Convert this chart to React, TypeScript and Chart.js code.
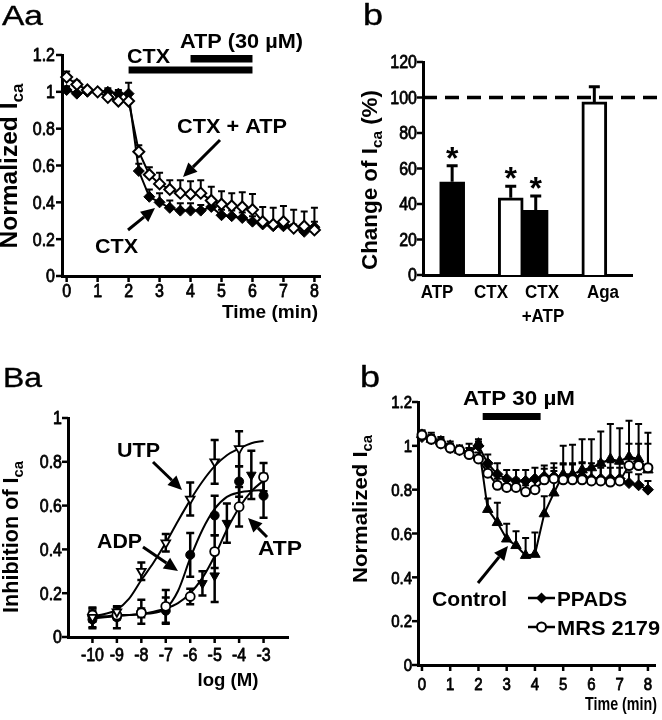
import React, { useEffect, useRef } from 'react';
import { Chart, registerables } from 'chart.js';
Chart.register(...registerables);

// ================= DATA =================
// Panel Aa : normalized I_Ca vs time
const timeAa = [0, 0.33, 0.67, 1, 1.33, 1.67, 2, 2.33, 2.67, 3, 3.33, 3.67, 4, 4.33, 4.67, 5, 5.33, 5.67, 6, 6.33, 6.67, 7, 7.33, 7.67, 8];
const ctxAa = [1.01, 0.99, 1.0, 1.0, 1.0, 0.99, 0.99, 0.57, 0.43, 0.4, 0.37, 0.355, 0.355, 0.355, 0.375, 0.33, 0.325, 0.315, 0.295, 0.28, 0.27, 0.27, 0.26, 0.24, 0.265];
const ctxAaErr = [0.02, 0.01, 0.01, 0.01, 0.02, 0.02, 0.06, 0.04, 0.04, 0.05, 0.04, 0.04, 0.04, 0.03, 0.03, 0.03, 0.03, 0.03, 0.03, 0.02, 0.02, 0.02, 0.02, 0.02, 0.03];
const ctxAtpAa = [1.08, 1.04, 1.01, 1.0, 0.97, 0.95, 0.95, 0.675, 0.55, 0.5, 0.47, 0.45, 0.445, 0.45, 0.41, 0.39, 0.38, 0.375, 0.36, 0.295, 0.28, 0.295, 0.26, 0.27, 0.25];
const ctxAtpAaErr = [0.03, 0.02, 0.01, 0.01, 0.02, 0.03, 0.03, 0.035, 0.04, 0.06, 0.05, 0.07, 0.07, 0.07, 0.075, 0.07, 0.07, 0.08, 0.085, 0.08, 0.09, 0.085, 0.1, 0.08, 0.12];
const aaYTicks = [0, 0.2, 0.4, 0.6, 0.8, 1, 1.2];
const aaYLabels = ['0', '0.2', '0.4', '0.6', '0.8', '1', '1.2'];
const aaXTicks = [0, 1, 2, 3, 4, 5, 6, 7, 8];
const aaXLabels = ['0', '1', '2', '3', '4', '5', '6', '7', '8'];
const ctxPeriod = [2, 6];
const atpPeriodAa = [4, 6];

// Panel Ab : change of I_Ca (%)
const barLabels = ['ATP', 'CTX', 'CTX\n+ATP', 'Aga'];
const barGroup = ['ATP', 'CTX', 'CTX', 'Aga'];
const barValues = [52.5, 43.5, 36.5, 97.5];
const barErrors = [9, 6.5, 8, 8.5];
const barSignificant = [true, true, true, false];
const abYTicks = [0, 20, 40, 60, 80, 100, 120];
const abYLabels = ['0', '20', '40', '60', '80', '100', '120'];
const controlLevel = 100;

// Panel Ba : concentration-response
const logConc = [-10, -9, -8, -7, -6, -5, -4, -3];
const utpConc = [-10, -9, -8, -7, -6, -5, -4];
const utpBa = [0.09, 0.115, 0.3, 0.43, 0.63, 0.8, 0.86];
const utpBaErr = [0.045, 0.02, 0.04, 0.04, 0.075, 0.1, 0.08];
const adpBa = [0.08, 0.09, 0.115, 0.12, 0.375, 0.555, 0.71, 0.645];
const adpBaErr = [0.04, 0.05, 0.055, 0.06, 0.1, 0.09, 0.07, 0.1];
const atpBa = [0.1, 0.1, 0.11, 0.14, 0.185, 0.39, 0.595, 0.73];
const atpBaErr = [0.03, 0.02, 0.02, 0.075, 0.035, 0.075, 0.09, 0.065];
const extraConc = [-5.5, -5, -4.5, -3.5];
const extraBa = [0.245, 0.28, 0.52, 0.74];
const extraBaErr = [0.055, 0.12, 0.09, 0.11];
const fitConc = [-10, -9.5, -9, -8.5, -8, -7.5, -7, -6.5, -6, -5.5, -5, -4.5, -4, -3.5, -3];
const utpFit = [0.095, 0.105, 0.125, 0.175, 0.26, 0.34, 0.43, 0.53, 0.625, 0.71, 0.78, 0.83, 0.86, 0.885, 0.895];
const adpFit = [0.085, 0.09, 0.095, 0.1, 0.105, 0.11, 0.13, 0.21, 0.36, 0.49, 0.585, 0.64, 0.66, 0.668, 0.67];
const atpFit = [0.095, 0.095, 0.1, 0.1, 0.105, 0.115, 0.13, 0.155, 0.2, 0.27, 0.37, 0.49, 0.59, 0.665, 0.715];
const baYTicks = [0, 0.2, 0.4, 0.6, 0.8, 1];
const baYLabels = ['0', '0.2', '0.4', '0.6', '0.8', '1'];
const baXTicks = [-10, -9, -8, -7, -6, -5, -4, -3];
const baXLabels = ['-10', '-9', '-8', '-7', '-6', '-5', '-4', '-3'];

// Panel Bb : antagonists
const timeBb = [0, 0.33, 0.67, 1, 1.33, 1.67, 2, 2.33, 2.67, 3, 3.33, 3.67, 4, 4.33, 4.67, 5, 5.33, 5.67, 6, 6.33, 6.67, 7, 7.33, 7.67, 8];
const controlBb = [1.05, 1.03, 1.02, 1.0, 0.98, 0.97, 1.01, 0.71, 0.65, 0.575, 0.545, 0.5, 0.505, 0.69, 0.785, 0.87, 0.87, 0.89, 0.9, 0.92, 0.94, 0.93, 0.95, 0.94, 0.89];
const controlBbErr = [0.02, 0.03, 0.02, 0.02, 0.02, 0.04, 0.02, 0.05, 0.09, 0.07, 0.065, 0.08, 0.1, 0.08, 0.1, 0.13, 0.135, 0.14, 0.13, 0.145, 0.16, 0.15, 0.165, 0.16, 0.17];
const ppadsBb = [1.04, 1.03, 1.01, 0.99, 0.98, 0.97, 1.0, 0.92, 0.87, 0.85, 0.84, 0.84, 0.85, 0.86, 0.86, 0.86, 0.86, 0.86, 0.85, 0.85, 0.85, 0.85, 0.83, 0.82, 0.8];
const ppadsBbErr = [0.02, 0.02, 0.02, 0.02, 0.02, 0.02, 0.02, 0.04, 0.05, 0.04, 0.05, 0.05, 0.05, 0.05, 0.06, 0.06, 0.06, 0.06, 0.05, 0.05, 0.05, 0.05, 0.05, 0.05, 0.04];
const mrsBb = [1.05, 1.03, 1.01, 0.99, 0.98, 0.96, 0.94, 0.875, 0.82, 0.81, 0.81, 0.79, 0.8, 0.845, 0.85, 0.845, 0.845, 0.845, 0.84, 0.84, 0.835, 0.84, 0.91, 0.91, 0.9];
const mrsBbErr = [0.02, 0.02, 0.02, 0.02, 0.02, 0.03, 0.03, 0.03, 0.03, 0.03, 0.04, 0.03, 0.04, 0.05, 0.05, 0.07, 0.07, 0.08, 0.08, 0.09, 0.09, 0.08, 0.1, 0.1, 0.11];
const bbYTicks = [0, 0.2, 0.4, 0.6, 0.8, 1, 1.2];
const bbYLabels = ['0', '0.2', '0.4', '0.6', '0.8', '1', '1.2'];
const bbXTicks = [0, 1, 2, 3, 4, 5, 6, 7, 8];
const bbXLabels = ['0', '1', '2', '3', '4', '5', '6', '7', '8'];
const atpPeriodBb = [2.15, 4.2];

// ================= HELPERS =================
const FONT = '"Liberation Sans", Arial, Helvetica, sans-serif';

function text(ctx: any, s: string, x: number, y: number, o: any) {
  ctx.save();
  ctx.font = `${o.bold ? 'bold ' : ''}${o.size}px ${FONT}`;
  ctx.textAlign = 'left';
  ctx.textBaseline = 'alphabetic';
  ctx.fillStyle = '#000';
  const m = ctx.measureText(s).width;
  const sx = o.w ? o.w / m : (o.sx || 1);
  const w = m * sx;
  const x0 = o.align === 'center' ? x - w / 2 : o.align === 'right' ? x - w : x;
  ctx.translate(x0, y);
  ctx.scale(sx, o.sy || 1);
  ctx.fillText(s, 0, 0);
  if (o.heavy) {
    ctx.strokeStyle = '#000';
    ctx.lineWidth = o.heavy;
    ctx.lineJoin = 'round';
    ctx.strokeText(s, 0, 0);
  }
  ctx.restore();
}

function yTitle(ctx: any, baseX: number, cy: number, main: string, sub: string, tail: string, size: number, len: number) {
  ctx.save();
  ctx.translate(baseX, cy);
  ctx.rotate(-Math.PI / 2);
  const f = `bold ${size}px ${FONT}`;
  const fs = `bold ${Math.round(size * 0.68)}px ${FONT}`;
  ctx.font = f;
  const w1 = ctx.measureText(main).width;
  const w3 = tail ? ctx.measureText(tail).width : 0;
  ctx.font = fs;
  const w2 = ctx.measureText(sub).width;
  const total = w1 + w2 + w3;
  ctx.scale(len / total, 1);
  const x0 = -total / 2;
  ctx.fillStyle = '#000';
  ctx.textAlign = 'left';
  ctx.textBaseline = 'alphabetic';
  ctx.font = f;
  ctx.fillText(main, x0, 0);
  ctx.font = fs;
  ctx.fillText(sub, x0 + w1, size * 0.24);
  if (tail) {
    ctx.font = f;
    ctx.fillText(tail, x0 + w1 + w2, 0);
  }
  ctx.restore();
}

function seg(ctx: any, x1: number, y1: number, x2: number, y2: number, lw: number) {
  ctx.save();
  ctx.strokeStyle = '#000';
  ctx.lineWidth = lw;
  ctx.beginPath();
  ctx.moveTo(x1, y1);
  ctx.lineTo(x2, y2);
  ctx.stroke();
  ctx.restore();
}

function arrow(ctx: any, x1: number, y1: number, x2: number, y2: number) {
  const lw = 3, hl = 14, hw = 6.5;
  const a = Math.atan2(y2 - y1, x2 - x1);
  const bx = x2 - hl * Math.cos(a), by = y2 - hl * Math.sin(a);
  seg(ctx, x1, y1, bx, by, lw);
  ctx.save();
  ctx.fillStyle = '#000';
  ctx.beginPath();
  ctx.moveTo(x2, y2);
  ctx.lineTo(bx + hw * Math.sin(a), by - hw * Math.cos(a));
  ctx.lineTo(bx - hw * Math.sin(a), by + hw * Math.cos(a));
  ctx.closePath();
  ctx.fill();
  ctx.restore();
}

function drawErrs(chart: any, phase: string) {
  const ctx = chart.ctx;
  const ys = chart.scales.y;
  chart.data.datasets.forEach((ds: any, di: number) => {
    if (!ds.errs || (ds.errPhase || 'before') !== phase) return;
    const meta = chart.getDatasetMeta(di);
    ds.data.forEach((p: any, i: number) => {
      const e = ds.errs[i];
      if (e == null || p.y == null) return;
      const el = meta.data[i];
      if (!el) return;
      const x = el.x;
      const yTop = ys.getPixelForValue(p.y + e);
      const yBot = ds.errBoth ? ys.getPixelForValue(p.y - e) : ys.getPixelForValue(p.y);
      const c = ds.errCap || 3;
      ctx.save();
      ctx.strokeStyle = '#000';
      ctx.lineWidth = ds.errLw || 2;
      ctx.beginPath();
      ctx.moveTo(x, yBot);
      ctx.lineTo(x, yTop);
      ctx.moveTo(x - c, yTop);
      ctx.lineTo(x + c, yTop);
      if (ds.errBoth) {
        ctx.moveTo(x - c, yBot);
        ctx.lineTo(x + c, yBot);
      }
      ctx.stroke();
      ctx.restore();
    });
  });
}

const errPlugin = {
  id: 'errbars',
  beforeDatasetsDraw(chart: any) { drawErrs(chart, 'before'); },
  afterDatasetsDraw(chart: any) { drawErrs(chart, 'after'); },
};

function deco(ox: number, oy: number, draw: (ctx: any, h: any, chart: any) => void) {
  return {
    id: 'deco',
    afterDraw(chart: any) {
      const ctx = chart.ctx;
      const a = chart.chartArea;
      const xs = chart.scales.x, ys = chart.scales.y;
      ctx.save();
      ctx.translate(-ox, -oy);
      draw(ctx, {
        X: (v: number) => xs.getPixelForValue(v) + ox,
        Y: (v: number) => ys.getPixelForValue(v) + oy,
        L: a.left + ox, R: a.right + ox, T: a.top + oy, B: a.bottom + oy,
        ox, oy,
      }, chart);
      ctx.restore();
    },
  };
}

function axis(min: number, max: number, horizontal: boolean, extra: any = {}) {
  return {
    type: 'linear',
    min, max,
    offset: false,
    ticks: { display: false },
    grid: { display: false, drawTicks: false },
    border: { display: true, color: '#000', width: 3 },
    afterFit: (s: any) => { if (horizontal) s.height = 0; else s.width = 0; },
    ...extra,
  };
}

function baseOptions(padding: any, xAx: any, yAx: any) {
  return {
    animation: false,
    responsive: false,
    maintainAspectRatio: false,
    layout: { padding },
    plugins: { legend: { display: false }, tooltip: { enabled: false } },
    scales: { x: xAx, y: yAx },
  };
}

function yTicksDraw(ctx: any, h: any, vals: number[], labels: string[], right: number, size: number, sy: number) {
  vals.forEach((v, i) => {
    const y = h.Y(v);
    seg(ctx, h.L - 6, y, h.L, y, 2.5);
    text(ctx, labels[i], right, y + 0.358 * size * sy, { size, align: 'right', sy, heavy: 0.7 });
  });
}
function xTicksDraw(ctx: any, h: any, vals: number[], labels: string[], base: number, size: number, sy: number) {
  vals.forEach((v, i) => {
    const x = h.X(v);
    seg(ctx, x, h.B, x, h.B + 6, 2.5);
    text(ctx, labels[i], x, base, { size, align: 'center', sy, heavy: 0.7 });
  });
}

const pts = (xs: number[], ys: number[]) => xs.map((x, i) => ({ x, y: ys[i] }));

// ================= CONFIGS =================
function cfgAa() {
  const ox = 0, oy = 0;
  return {
    type: 'scatter',
    data: {
      datasets: [
        {
          label: 'CTX + ATP', data: pts(timeAa, ctxAtpAa), errs: ctxAtpAaErr, errCap: 3.5, errLw: 2,
          showLine: true, borderColor: '#000', borderWidth: 2, pointStyle: 'rectRot', pointRadius: 5.5,
          pointBackgroundColor: '#fff', pointBorderColor: '#000', pointBorderWidth: 2, clip: false,
        },
        {
          label: 'CTX', data: pts(timeAa, ctxAa), errs: ctxAaErr, errCap: 3.5, errLw: 2,
          showLine: true, borderColor: '#000', borderWidth: 2, pointStyle: 'rectRot', pointRadius: 5.5,
          pointBackgroundColor: '#000', pointBorderColor: '#000', pointBorderWidth: 1, clip: false,
        },
      ],
    },
    options: baseOptions({ left: 62, right: 11, top: 55, bottom: 64 }, axis(-0.15, 8.18, true), axis(0, 1.2, false)),
    plugins: [errPlugin, deco(ox, oy, (ctx, h) => {
      yTicksDraw(ctx, h, aaYTicks, aaYLabels, 55, 16, 1.13);
      xTicksDraw(ctx, h, aaXTicks, aaXLabels, 297, 16, 1.13);
      text(ctx, 'Time (min)', 318, 318, { size: 19, bold: true, align: 'right', w: 96 });
      yTitle(ctx, 17, 166, 'Normalized I', 'ca', '', 23, 165);
      text(ctx, 'Aa', 2, 25, { size: 28, w: 41, heavy: 0.4 });
      ctx.fillStyle = '#000';
      ctx.fillRect(h.X(ctxPeriod[0]), 66.5, h.X(ctxPeriod[1]) - h.X(ctxPeriod[0]), 7);
      ctx.fillRect(h.X(atpPeriodAa[0]), 55, h.X(atpPeriodAa[1]) - h.X(atpPeriodAa[0]), 7.5);
      text(ctx, 'CTX', 127, 63, { size: 21, bold: true, w: 43 });
      text(ctx, 'ATP (30 µM)', 180, 48, { size: 21, bold: true, w: 123 });
      text(ctx, 'CTX + ATP', 177, 133, { size: 21, bold: true, w: 110 });
      arrow(ctx, 220, 140, 183, 177);
      text(ctx, 'CTX', 95, 253, { size: 21, bold: true, w: 43 });
      arrow(ctx, 128, 230, 155, 208);
    })],
  };
}

function cfgAb() {
  const ox = 331, oy = 0;
  const barFill = ['#000', '#fff', '#000', '#fff'];
  const groups = Array.from(new Set(barGroup));
  const slots = [0, 1].map((k) => groups.map((g) => barGroup.map((gg, i) => (gg === g ? i : -1)).filter((i) => i >= 0)[k]));
  const datasets = slots.map((sl) => ({
    label: 'bars',
    data: sl.map((bi, gi) => ({ x: gi, y: bi === undefined ? null : barValues[bi] })),
    backgroundColor: sl.map((bi) => (bi === undefined ? '#000' : barFill[bi])),
    borderColor: '#000',
    borderWidth: 3,
    barThickness: 25,
    skipNull: true,
    errs: sl.map((bi) => (bi === undefined ? null : barErrors[bi])),
    errPhase: 'after', errCap: 5.5, errLw: 3,
    barIdx: sl,
  }));
  const labelX = [437, 491, 542, 603];
  return {
    type: 'bar',
    data: { datasets },
    options: baseOptions({ left: 92, right: 30, top: 62, bottom: 65 }, axis(-0.41, 2.53, true), axis(0, 120, false)),
    plugins: [errPlugin, deco(ox, oy, (ctx, h, chart) => {
      yTicksDraw(ctx, h, abYTicks, abYLabels, 417, 16, 1.1);
      ctx.save();
      ctx.strokeStyle = '#000';
      ctx.lineWidth = 3.5;
      ctx.setLineDash([14, 8]);
      ctx.beginPath();
      ctx.moveTo(h.L, h.Y(controlLevel));
      ctx.lineTo(662, h.Y(controlLevel));
      ctx.stroke();
      ctx.restore();
      yTitle(ctx, 377, 180, 'Change of I', 'ca', ' (%)', 22, 180);
      text(ctx, 'b', 363, 25, { size: 30, w: 20, heavy: 0.4 });
      barLabels.forEach((lab, i) => {
        const lines = lab.split('\n');
        text(ctx, lines[0], labelX[i], 298, { size: 17, bold: true, align: 'center', sy: 1.1 });
        if (lines[1]) text(ctx, lines[1], labelX[i] + 1, 322, { size: 17, bold: true, align: 'center', sy: 1.1 });
      });
      slots.forEach((sl, k) => {
        const meta = chart.getDatasetMeta(k);
        sl.forEach((bi, gi) => {
          if (bi === undefined || !barSignificant[bi]) return;
          const el = meta.data[gi];
          const cy = h.Y(barValues[bi] + barErrors[bi]) - 15;
          text(ctx, '*', el.x + ox, cy + 18, { size: 32, bold: true, align: 'center' });
        });
      });
    })],
  };
}

function cfgBa() {
  const ox = 0, oy = 340;
  const pt = (extra: any) => ({ showLine: false, pointBorderColor: '#000', errBoth: true, errCap: 4, errLw: 2.5, clip: false, ...extra });
  const curve = (label: string, ys: number[]) => ({
    label, data: pts(fitConc, ys), showLine: true, borderColor: '#000', borderWidth: 2,
    pointRadius: 0, cubicInterpolationMode: 'monotone', clip: false,
  });
  return {
    type: 'scatter',
    data: {
      datasets: [
        pt({ label: 'UTP', data: pts(utpConc, utpBa), errs: utpBaErr, pointStyle: 'triangle', pointRotation: 180, pointRadius: 5, pointBackgroundColor: '#fff', pointBorderWidth: 1.8 }),
        pt({ label: 'ATP', data: pts(logConc, atpBa), errs: atpBaErr, pointStyle: 'circle', pointRadius: 4.5, pointBackgroundColor: '#fff', pointBorderWidth: 1.8 }),
        pt({ label: 'ADP', data: pts(logConc, adpBa), errs: adpBaErr, pointStyle: 'circle', pointRadius: 4.5, pointBackgroundColor: '#000', pointBorderWidth: 1 }),
        pt({ label: 'series 4', data: pts(extraConc, extraBa), errs: extraBaErr, pointStyle: 'triangle', pointRotation: 180, pointRadius: 5.5, pointBackgroundColor: '#000', pointBorderWidth: 1 }),
        curve('UTP fit', utpFit),
        curve('ADP fit', adpFit),
        curve('ATP fit', atpFit),
      ],
    },
    options: baseOptions({ left: 68, right: 43, top: 78, bottom: 83 }, axis(-11, -2, true), axis(0, 1, false)),
    plugins: [errPlugin, deco(ox, oy, (ctx, h) => {
      yTicksDraw(ctx, h, baYTicks, baYLabels, 62, 16, 1.1);
      xTicksDraw(ctx, h, baXTicks, baXLabels, 661, 16, 1.1);
      text(ctx, 'log (M)', 228, 686, { size: 19, bold: true, align: 'center', w: 61 });
      yTitle(ctx, 18, 537, 'Inhibition of I', 'ca', '', 22, 152);
      text(ctx, 'Ba', 3, 387, { size: 28, w: 39, heavy: 0.4 });
      text(ctx, 'UTP', 117, 457, { size: 21, bold: true, w: 43 });
      arrow(ctx, 153, 462, 182, 490);
      text(ctx, 'ADP', 97, 548, { size: 21, bold: true, w: 45 });
      arrow(ctx, 143, 547, 178, 571);
      text(ctx, 'ATP', 258, 555, { size: 21, bold: true, w: 44 });
      arrow(ctx, 267, 537, 248, 518);
    })],
  };
}

function cfgBb() {
  const ox = 331, oy = 340;
  const ser = (extra: any) => ({ showLine: true, borderColor: '#000', borderWidth: 2, pointBorderColor: '#000', errCap: 3.5, errLw: 2, clip: false, ...extra });
  return {
    type: 'scatter',
    data: {
      datasets: [
        ser({ label: 'MRS 2179', data: pts(timeBb, mrsBb), errs: mrsBbErr, pointStyle: 'circle', pointRadius: 4.5, pointBackgroundColor: '#fff', pointBorderWidth: 2 }),
        ser({ label: 'PPADS', data: pts(timeBb, ppadsBb), errs: ppadsBbErr, pointStyle: 'rectRot', pointRadius: 5.5, pointBackgroundColor: '#000', pointBorderWidth: 1 }),
        ser({ label: 'Control', data: pts(timeBb, controlBb), errs: controlBbErr, pointStyle: 'triangle', pointRadius: 6, pointBackgroundColor: '#000', pointBorderWidth: 1 }),
      ],
    },
    options: baseOptions({ left: 87, right: 6, top: 62, bottom: 55 }, axis(-0.14, 8.25, true), axis(0, 1.2, false)),
    plugins: [errPlugin, deco(ox, oy, (ctx, h) => {
      yTicksDraw(ctx, h, bbYTicks, bbYLabels, 412, 15, 1.15);
      xTicksDraw(ctx, h, bbXTicks, bbXLabels, 690, 15, 1.15);
      text(ctx, 'Time (min)', 657, 710, { size: 17, bold: true, align: 'right', w: 72, sy: 1.1 });
      yTitle(ctx, 367, 509, 'Normalized I', 'ca', '', 21, 148);
      text(ctx, 'b', 360, 387, { size: 30, w: 20, heavy: 0.4 });
      text(ctx, 'ATP 30 µM', 463, 405, { size: 20, bold: true, w: 112 });
      ctx.fillStyle = '#000';
      ctx.fillRect(h.X(atpPeriodBb[0]), 413, h.X(atpPeriodBb[1]) - h.X(atpPeriodBb[0]), 7);
      text(ctx, 'Control', 432, 606, { size: 21, bold: true, w: 75 });
      arrow(ctx, 478, 583, 508, 546);
      // legend
      seg(ctx, 528, 598, 555, 598, 2.5);
      ctx.save();
      ctx.fillStyle = '#000';
      ctx.beginPath();
      ctx.moveTo(541.5, 592.5); ctx.lineTo(547, 598); ctx.lineTo(541.5, 603.5); ctx.lineTo(536, 598);
      ctx.closePath(); ctx.fill();
      ctx.restore();
      text(ctx, 'PPADS', 557, 606, { size: 20, bold: true, w: 70 });
      seg(ctx, 528, 627, 555, 627, 2.5);
      ctx.save();
      ctx.fillStyle = '#fff'; ctx.strokeStyle = '#000'; ctx.lineWidth = 2;
      ctx.beginPath(); ctx.arc(541.5, 627, 4.5, 0, Math.PI * 2); ctx.fill(); ctx.stroke();
      ctx.restore();
      text(ctx, 'MRS 2179', 557, 635, { size: 20, bold: true, w: 103 });
    })],
  };
}

// ================= COMPONENT =================
export default function App() {
  const r1 = useRef<HTMLCanvasElement>(null);
  const r2 = useRef<HTMLCanvasElement>(null);
  const r3 = useRef<HTMLCanvasElement>(null);
  const r4 = useRef<HTMLCanvasElement>(null);
  useEffect(() => {
    const charts = [
      new Chart(r1.current as any, cfgAa() as any),
      new Chart(r2.current as any, cfgAb() as any),
      new Chart(r3.current as any, cfgBa() as any),
      new Chart(r4.current as any, cfgBb() as any),
    ];
    return () => charts.forEach((c) => c.destroy());
  }, []);
  const cs = (l: number, t: number, w: number, hh: number) => ({ position: 'absolute' as const, left: l, top: t, width: w, height: hh });
  return (
    <div style={{ position: 'absolute', left: 0, top: 0, width: 662, height: 720, background: '#fff', overflow: 'hidden' }}>
      <canvas ref={r1} width={331} height={340} style={cs(0, 0, 331, 340)} />
      <canvas ref={r2} width={331} height={340} style={cs(331, 0, 331, 340)} />
      <canvas ref={r3} width={331} height={380} style={cs(0, 340, 331, 380)} />
      <canvas ref={r4} width={331} height={380} style={cs(331, 340, 331, 380)} />
    </div>
  );
}
